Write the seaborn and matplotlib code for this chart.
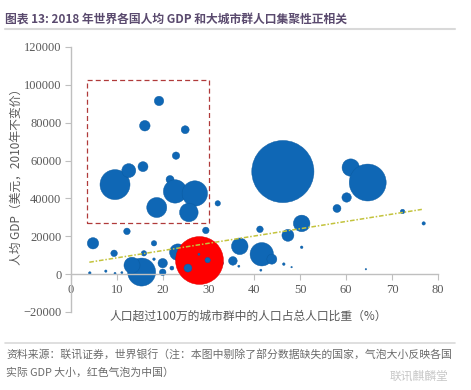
import numpy as np
import pandas as pd
import matplotlib
matplotlib.use("Agg")
import matplotlib.pyplot as plt
import seaborn as sns

# ── data ────────────────────────────────────────────────────────────────────
# x: share of population living in agglomerations > 1 million (%)
# y: GDP per capita (USD, constant 2010)
# gdp: real GDP (trillion USD, constant 2010) -> bubble area
urban_share = [9.6, 12.6, 15.7, 16.1, 19.2, 24.9, 22.9, 21.6, 22.7, 27.0,
               18.7, 25.7, 32.0, 46.2, 61.0, 64.7, 60.1, 58.0, 72.3, 76.9,
               4.8, 12.2, 9.4, 18.1, 15.9, 15.4, 13.3, 20.0, 20.0, 22.0,
               18.1, 23.3, 29.4, 32.5, 35.3, 36.8, 41.6, 43.8, 41.2, 47.3,
               50.3, 50.3, 46.4, 48.1, 41.4, 64.3, 4.1, 7.6, 9.6, 11.1,
               36.6]
gdp_per_capita = [47300, 54700, 56800, 78400, 91500, 76300, 62600, 50000, 43700, 42600,
                  35200, 32600, 37400, 54200, 56300, 48400, 40500, 34700, 33100, 26800,
                  16300, 22600, 11000, 16300, 11000, 1100, 4700, 5800, 1000, 3200,
                  7900, 11600, 23100, 5800, 7000, 14700, 10500, 7900, 23700, 20500,
                  26800, 14200, 5300, 3700, 2100, 2600, 600, 1600, 400, 800,
                  4200]
gdp = [3.96, 0.86, 0.44, 0.49, 0.39, 0.28, 0.24, 0.28, 2.41, 2.84,
       1.76, 1.52, 0.13, 17.0, 1.33, 6.0, 0.39, 0.28, 0.09, 0.05,
       0.57, 0.19, 0.19, 0.13, 0.13, 3.45, 1.13, 0.39, 0.19, 0.07,
       0.03, 1.21, 0.19, 0.19, 0.33, 1.21, 2.41, 0.44, 0.19, 0.63,
       1.21, 0.03, 0.03, 0.01, 0.02, 0.01, 0.03, 0.025, 0.02, 0.02,
       0.02]

china_share = [27.9]
china_gdp_per_capita = [7400]
china_gdp = [10.1]

# small countries drawn on top of the China bubble
front_share = [25.5, 29.8, 27.9]
front_gdp_per_capita = [3200, 7400, 10500]
front_gdp = [0.28, 0.13, 0.02]

trend_x = [4.0, 76.5]
trend_y = [6300, 34200]

box_x = [3.5, 30.1]
box_y = [26800, 102600]

x_ticks = list(range(0, 90, 10))
y_ticks = list(range(-20000, 140000, 20000))

TITLE = "图表 13: 2018 年世界各国人均 GDP 和大城市群人口集聚性正相关"
XLABEL = "人口超过100万的城市群中的人口占总人口比重（%）"
YLABEL = "人均 GDP（美元，2010年不变价）"
SOURCE_1 = "资料来源：联讯证券，世界银行（注：本图中剔除了部分数据缺失的国家，气泡大小反映各国"
SOURCE_2 = "实际 GDP 大小，红色气泡为中国）"
WATERMARK = "联讯麒麟堂"

BLUE = "#0f67b5"
RED = "#ff0000"
GREY_TXT = "#595959"
GREY_AX = "#bfbfbf"

sns.set_theme(style="white")
plt.rcParams["font.family"] = ["Noto Sans CJK SC", "DejaVu Sans"]

df = pd.DataFrame({"share": urban_share, "gpc": gdp_per_capita, "gdp": gdp})
china = pd.DataFrame({"share": china_share, "gpc": china_gdp_per_capita, "gdp": china_gdp})
front = pd.DataFrame({"share": front_share, "gpc": front_gdp_per_capita, "gdp": front_gdp})

fig = plt.figure(figsize=(4.71, 3.90), dpi=100)
ax = fig.add_axes([0.1507, 0.20, 0.779, 0.6795])

# bubble area proportional to GDP (Excel-style)
size_kw = dict(size="gdp", sizes=(0, 2122), size_norm=(0, 18), legend=False)
sns.scatterplot(data=df, x="share", y="gpc", color=BLUE, edgecolor="#0a5aa0",
                linewidth=0.3, ax=ax, zorder=2, **size_kw)
sns.scatterplot(data=china, x="share", y="gpc", color=RED, edgecolor="#e00000",
                linewidth=0.3, ax=ax, zorder=3, **size_kw)
sns.scatterplot(data=front, x="share", y="gpc", color=BLUE, edgecolor="#0a5aa0",
                linewidth=0.3, ax=ax, zorder=4, **size_kw)

# trend line
ax.plot(trend_x, trend_y, color="#c3c33c", lw=1.1, ls=(0, (3, 1.2, 1, 1.2)), zorder=5)

# dashed highlight box
ax.plot([box_x[0], box_x[1], box_x[1], box_x[0], box_x[0]],
        [box_y[0], box_y[0], box_y[1], box_y[1], box_y[0]],
        color="#b03a3a", lw=0.9, ls=(0, (4, 2.5)), zorder=6)

ax.set_xlim(0, 80)
ax.set_ylim(-20000, 120000)
ax.set_xticks(x_ticks)
ax.set_yticks(y_ticks)
ax.set_xlabel("")
ax.set_ylabel("")

for s in ["top", "right"]:
    ax.spines[s].set_visible(False)
ax.spines["bottom"].set_position(("data", 0))
ax.spines["left"].set_color(GREY_AX)
ax.spines["bottom"].set_color(GREY_AX)
ax.spines["left"].set_linewidth(1.0)
ax.spines["bottom"].set_linewidth(1.0)
ax.tick_params(axis="both", direction="out", length=4, width=0.8, color=GREY_AX,
               labelcolor=GREY_TXT, labelsize=9, pad=3,
               labelfontfamily="Liberation Serif")
ax.tick_params(axis="x", bottom=True)
ax.tick_params(axis="y", left=True)
ax.patch.set_alpha(0)

ax.text(0.483, -0.015, XLABEL, transform=ax.transAxes, ha="center", va="center",
        fontsize=8.5, color=GREY_TXT)
ax.text(-0.15, 0.52, YLABEL, transform=ax.transAxes, ha="center", va="center",
        rotation=90, fontsize=8.5, color=GREY_TXT)

# title and separators
fig.text(5 / 471, 1 - 19 / 390, TITLE, ha="left", va="center", fontsize=8.5,
         color="#5a4a6e", fontweight="bold")
fig.add_artist(plt.Line2D([5 / 471, 455 / 471], [1 - 29 / 390] * 2,
                          color="#d9d9d9", lw=1.5))
fig.add_artist(plt.Line2D([5 / 471, 455 / 471], [1 - 343 / 390] * 2,
                          color="#d9d9d9", lw=1.2))

fig.text(6 / 471, 1 - 354 / 390, SOURCE_1, ha="left", va="center", fontsize=7.8,
         color="#6b6b6b")
fig.text(6 / 471, 1 - 373 / 390, SOURCE_2, ha="left", va="center", fontsize=7.8,
         color="#6b6b6b")
fig.text(390 / 471, 1 - 376 / 390, WATERMARK, ha="left", va="center", fontsize=8.5,
         color="#c8c8c8")

fig.savefig("out.png", dpi=100, facecolor="white")
